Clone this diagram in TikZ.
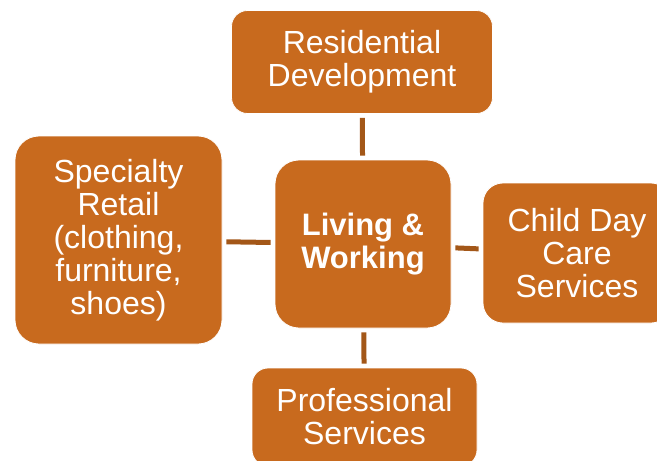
\documentclass[tikz,border=0pt]{standalone}
\usepackage{fontspec}
\setmainfont{Liberation Sans}
\usepackage{tikz}
\usetikzlibrary{positioning}
\usepackage{xcolor}
\definecolor{boxorange}{RGB}{200,106,30}
\definecolor{linkbrown}{RGB}{163,87,24}

\begin{document}
\begin{tikzpicture}[x=1pt, y=-1pt,
        topic/.style={rectangle, rounded corners=16pt, fill=boxorange, draw=white, line width=0.8pt, text=white, align=center, inner sep=0pt, font=\fontsize{32}{33}\selectfont},
        link/.style={line width=5pt, draw=linkbrown, shorten <=4pt, shorten >=4pt}
    ]

    % Frame of the picture
    \clip (0,0) rectangle (657,461);
    \fill[white] (0,0) rectangle (657,461);

    % Centre block
    \node[topic, rounded corners=24pt, minimum width=176pt, minimum height=168pt, font=\fontsize{31}{33}\selectfont\bfseries] (core) at (363,244) {Living \&\\Working};

    % Surrounding blocks
    \node[topic, minimum width=261pt, minimum height=103pt] (resid) at (362,62) {Residential\\Development};
    \node[topic, rounded corners=24pt, minimum width=207pt, minimum height=208pt] (retail) at (118.5,240) {Specialty\\Retail\\(clothing,\\furniture,\\shoes)};
    \node[topic, rounded corners=20pt, minimum width=188pt, minimum height=140pt] (care) at (577,253) {Child Day\\Care\\Services};
    \node[topic, minimum width=225pt, minimum height=98pt] (prof) at (364.5,417) {Professional\\Services};

    % Connectors
    \draw[link] (resid) -- (core);
    \draw[link] (retail) -- (core);
    \draw[link] (core) -- (care);
    \draw[link] (core) -- (prof);

\end{tikzpicture}
\end{document}
